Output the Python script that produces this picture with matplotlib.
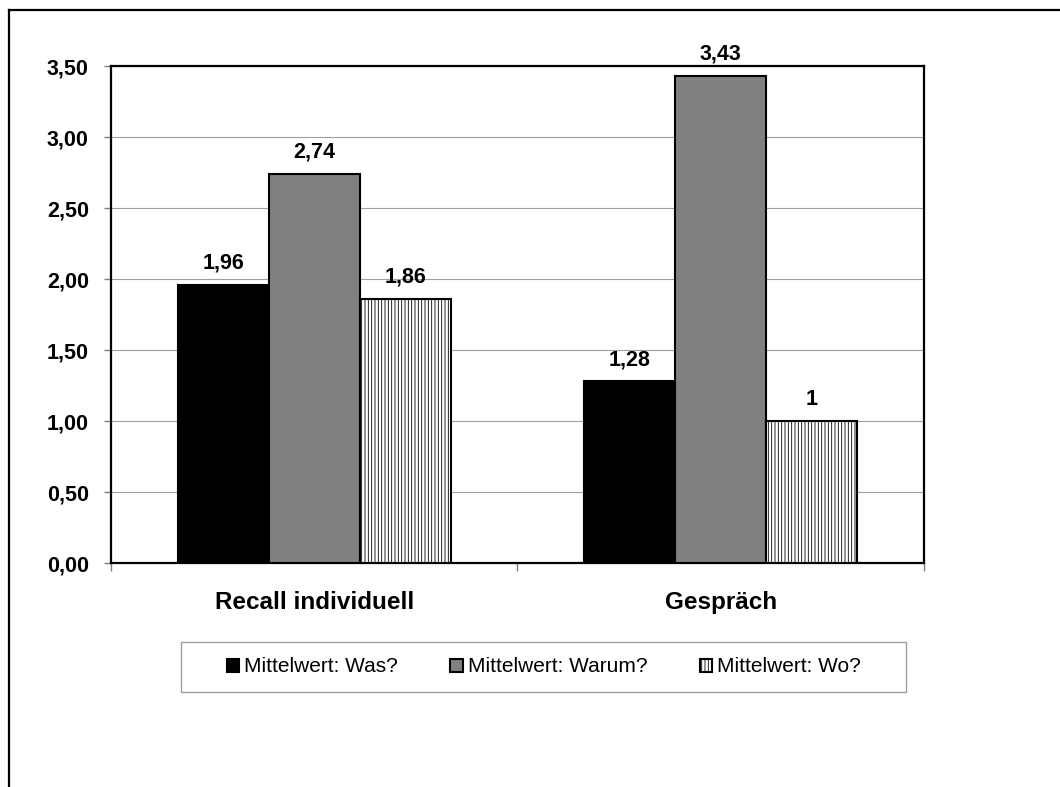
import matplotlib
matplotlib.use('Agg')
import matplotlib.pyplot as plt
from matplotlib.patches import Rectangle
from matplotlib.lines import Line2D
from matplotlib.ticker import FuncFormatter
import numpy as np

plt.rcParams['font.family'] = ['Liberation Sans', 'DejaVu Sans']
plt.rcParams['hatch.color'] = '#a8a8a8'
plt.rcParams['hatch.linewidth'] = 0.6

groups = ['Recall individuell', 'Gespräch']
series = ['Mittelwert: Was?', 'Mittelwert: Warum?', 'Mittelwert: Wo?']
was = [1.96, 1.28]
warum = [2.74, 3.43]
wo = [1.86, 1.0]

colors = ['#000000', '#808080', '#ffffff']
hatches = [None, None, '|||||']

fig = plt.figure(figsize=(10.6, 7.87), dpi=100)
ax = fig.add_axes([0.1047, 0.2846, 0.767, 0.6315])

x = np.arange(len(groups))
w = 0.224
bars = []
for i, (vals, c, h, name) in enumerate(zip([was, warum, wo], colors, hatches, series)):
    b = ax.bar(x + (i - 1) * w, vals, w, color=c, edgecolor='black',
               linewidth=1.5, hatch=h, label=name, zorder=3)
    bars.append(b)
    for xi, v in zip(x + (i - 1) * w, vals):
        ax.annotate(f'{v:g}'.replace('.', ','), (xi, v), xytext=(0, 8),
                    textcoords='offset points', ha='center', va='bottom',
                    fontsize=15.5, fontweight='bold')

ax.set_xlim(-0.5, 1.5)
ax.set_ylim(0, 3.5)
ax.set_yticks(np.arange(0, 3.51, 0.5))
ax.yaxis.set_major_formatter(FuncFormatter(lambda v, p: f'{v:.2f}'.replace('.', ',')))
ax.grid(axis='y', color='#a0a0a0', linewidth=0.8, zorder=0)

ax.set_xticks([-0.5, 0.5, 1.5])
ax.set_xticklabels([])
ax.set_xticks(x, minor=True)
ax.set_xticklabels(groups, minor=True, fontsize=17.5, fontweight='bold')
ax.tick_params(axis='x', which='minor', length=0, pad=20)
ax.tick_params(axis='x', which='major', length=6, color='#808080', width=1)
ax.tick_params(axis='y', length=5, color='#808080', width=1, labelsize=15.5, pad=11)
for lab in ax.get_yticklabels():
    lab.set_fontweight('bold')

for s in ax.spines.values():
    s.set_linewidth(1.6)
    s.set_color('black')

# legend with its own frame
fig.add_artist(Rectangle((181 / 1060, 1 - 692 / 787), 725 / 1060, 50 / 787,
                         transform=fig.transFigure, fill=False,
                         edgecolor='#a0a0a0', linewidth=1))
fig.legend(handles=[b[0] for b in bars], labels=series, loc='center',
           bbox_to_anchor=(544 / 1060, 1 - 667 / 787), ncol=3, frameon=False,
           fontsize=15, handlelength=0.6, handleheight=0.6, handletextpad=0.25,
           columnspacing=2.5)

# outer border
fig.add_artist(Line2D([9 / 1060, 1.0], [1 - 10 / 787] * 2, transform=fig.transFigure,
                      color='black', linewidth=1.6))
fig.add_artist(Line2D([9 / 1060] * 2, [1 - 10 / 787, 0.0], transform=fig.transFigure,
                      color='black', linewidth=1.6))

fig.savefig('out.png', dpi=100)
